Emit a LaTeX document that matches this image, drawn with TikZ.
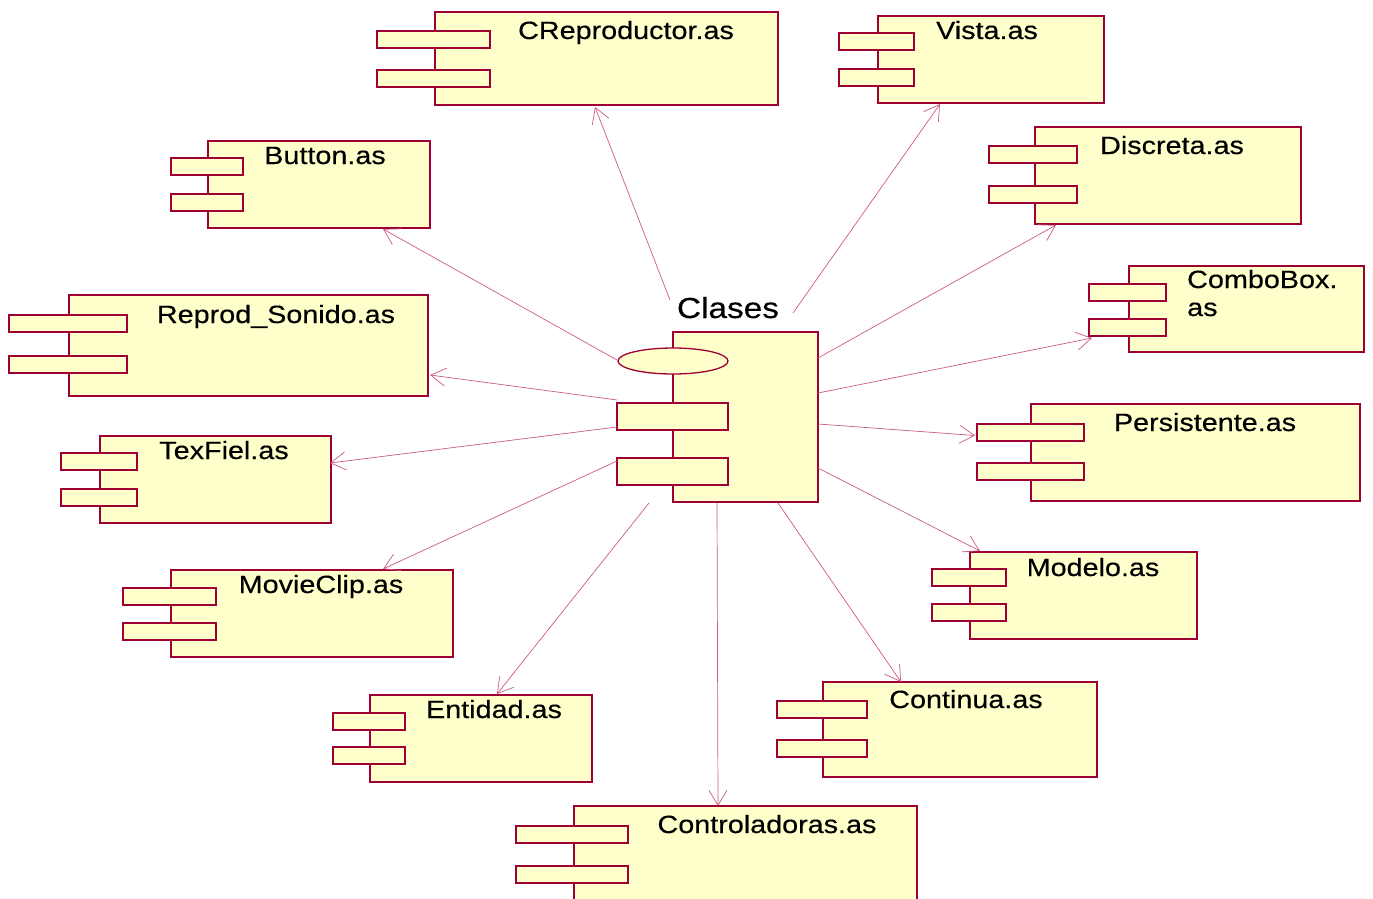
\documentclass[tikz,border=0pt]{standalone}
\usepackage{fontspec}
\usetikzlibrary{arrows.meta,calc,shapes.geometric}
\newfontfamily\lblfont{Liberation Sans}[FakeStretch=1.15,FakeBold=0.35]
\definecolor{umlred}{RGB}{158,0,52}
\definecolor{umlfill}{RGB}{255,255,204}
\definecolor{linkred}{RGB}{204,90,130}

% one component: name, main box x1 y1 x2 y2, stub x1 x2, top y of each stub
\newcommand{\component}[9]{%
  \node[mainbox, minimum width={(#4-#2)*1pt}, minimum height={(#5-#3)*1pt}]
    (#1) at ({(#2+#4)/2},{(#3+#5)/2}) {};
  \node[stubbox, minimum width={(#7-#6)*1pt}] (#1-a) at ({(#6+#7)/2},{#8+8.5}) {};
  \node[stubbox, minimum width={(#7-#6)*1pt}] (#1-b) at ({(#6+#7)/2},{#9+8.5}) {};
}

\begin{document}
\begin{tikzpicture}[x=1pt,y=-1pt,
  mainbox/.style={draw=umlred, fill=umlfill, line width=2pt, inner sep=0pt, outer sep=0pt},
  stubbox/.style={draw=umlred, fill=umlfill, line width=2pt, inner sep=0pt, outer sep=0pt, minimum height=17pt},
  thinbox/.style={draw=umlred, fill=umlfill, line width=1.3pt, inner sep=0pt, outer sep=0pt},
  lbl/.style={anchor=base, inner sep=0pt, font=\lblfont\fontsize{25}{30}\selectfont},
  link/.style={draw=linkred, line width=0.7pt, -{Straight Barb[length=15pt,width=18pt]}}]

\useasboundingbox[fill=white] (0,0) rectangle (1373,899);

% central component
\node[thinbox, minimum width=145pt, minimum height=170pt] (cls) at (745.5,417) {};
\node[thinbox, ellipse, minimum width=110pt, minimum height=26pt] (cls-e) at (673,361) {};
\node[thinbox, minimum width=111pt, minimum height=27pt] (cls-a) at (672.5,416.5) {};
\node[thinbox, minimum width=111pt, minimum height=27pt] (cls-b) at (672.5,471.5) {};
\node[anchor=base, inner sep=0pt, font=\lblfont\fontsize{29}{34}\selectfont] (cls-t) at (728,318) {Clases};

% surrounding components
\component{crep}{435}{12}{778}{105}{377}{490}{31}{70}
\node[lbl] (crep-t) at (626,39) {CReproductor.as};

\component{vista}{878}{16}{1104}{103}{839}{914}{33}{69}
\node[lbl] (vista-t) at (987,39) {Vista.as};

\component{disc}{1035}{127}{1301}{224}{989}{1077}{146}{186}
\node[lbl] (disc-t) at (1172,154) {Discreta.as};

\component{combo}{1129}{266}{1364}{352}{1089}{1166}{284}{319}
\node[lbl, anchor=base west, align=left] (combo-t) at (1187,288) {ComboBox.};
\node[lbl, anchor=base west] (combo-t2) at (1187,316) {as};

\component{pers}{1031}{404}{1360}{501}{977}{1084}{424}{463}
\node[lbl] (pers-t) at (1205,431) {Persistente.as};

\component{model}{970}{552}{1197}{639}{932}{1006}{569}{604}
\node[lbl] (model-t) at (1093,576) {Modelo.as};

\component{cont}{823}{682}{1097}{777}{777}{867}{701}{740}
\node[lbl] (cont-t) at (966,708) {Continua.as};

\component{ctrl}{574}{806}{917}{920}{516}{628}{826}{866}
\node[lbl] (ctrl-t) at (767,833) {Controladoras.as};

\component{ent}{370}{695}{592}{782}{333}{405}{713}{747}
\node[lbl] (ent-t) at (494,718) {Entidad.as};

\component{movie}{171}{570}{453}{657}{123}{216}{588}{623}
\node[lbl] (movie-t) at (321,593) {MovieClip.as};

\component{tex}{100}{436}{331}{523}{61}{137}{453}{489}
\node[lbl] (tex-t) at (224,459) {TexFiel.as};

\component{repr}{69}{295}{428}{396}{9}{127}{315}{356}
\node[lbl] (repr-t) at (276,323) {Reprod\_Sonido.as};

\component{btn}{208}{141}{430}{228}{171}{243}{158}{194}
\node[lbl] (btn-t) at (325,164) {Button.as};

% connector starting points around the central component
\coordinate (o1) at (670,300);
\coordinate (o2) at (793,313);
\coordinate (o3) at (818,358);
\coordinate (o4) at (818,393);
\coordinate (o5) at (818,424);
\coordinate (o6) at (818,468);
\coordinate (o7) at (778,503);
\coordinate (o8) at (717,503);
\coordinate (o9) at (649,503);
\coordinate (o10) at (617,461);
\coordinate (o11) at (617,427);
\coordinate (o12) at (617,400);
\coordinate (o13) at (617,360);

% dependencies
\draw[link] (o1) -- ($(crep.south west)+(160,2)$);
\draw[link] (o2) -- ($(vista.south west)+(62,1)$);
\draw[link] (o3) -- ($(disc.south west)+(21,1)$);
\draw[link] (o4) -- ($(combo-b.south west)+(3,2)$);
\draw[link] (o5) -- ($(pers-a.west)+(-2,3)$);
\draw[link] (o6) -- ($(model.north west)+(10,-1)$);
\draw[link] (o7) -- ($(cont.north west)+(78,0)$);
\draw[link] (o8) -- ($(ctrl.north west)+(144,0)$);
\draw[link] (o9) -- ($(ent.north west)+(127,-1)$);
\draw[link] (o10) -- ($(movie.north west)+(212,-1)$);
\draw[link] (o11) -- ($(tex.north east)+(-1,27)$);
\draw[link] (o12) -- ($(repr.south east)+(2,-21)$);
\draw[link] (o13) -- ($(btn.south west)+(175,1)$);
\end{tikzpicture}
\end{document}
